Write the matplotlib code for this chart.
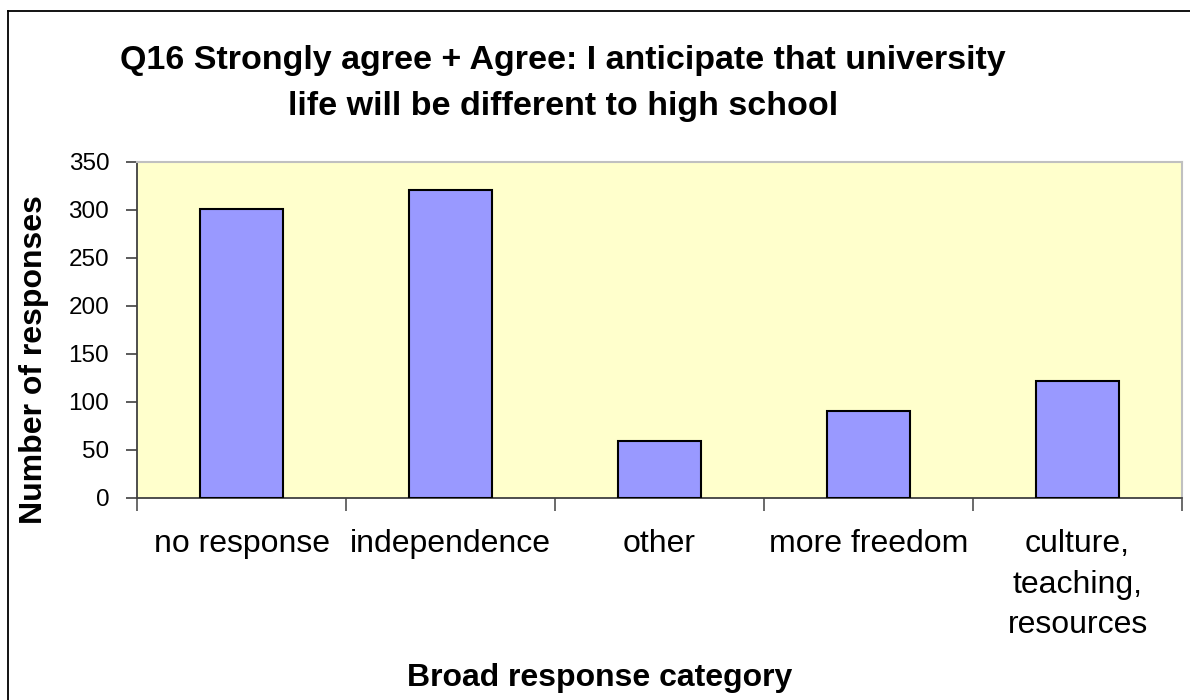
import matplotlib
matplotlib.use("Agg")
import matplotlib.pyplot as plt
from matplotlib.lines import Line2D

# chart data
categories = ["no response", "independence", "other", "more freedom",
              "culture,\nteaching,\nresources"]
responses = [301, 321, 59, 91, 122]
y_ticks = [0, 50, 100, 150, 200, 250, 300, 350]

title_lines = ["Q16 Strongly agree + Agree: I anticipate that university",
               "life will be different to high school"]
x_title = "Broad response category"
y_title = "Number of responses"

plt.rcParams['font.family'] = ['Liberation Sans', 'DejaVu Sans']

W, H = 1190, 700
fig = plt.figure(figsize=(W / 100, H / 100), dpi=100)
fig.patch.set_facecolor('white')

# plot area in pixels: x 137..1182, y 162..498
ax = fig.add_axes([137 / W, 1 - 498 / H, (1182 - 137) / W, (498 - 162) / H])
ax.set_facecolor('#FFFFCC')

x = list(range(len(categories)))
ax.bar(x, responses, width=0.4, color='#9999FF', edgecolor='black',
       linewidth=1.5, zorder=3)

ax.set_xlim(-0.5, len(categories) - 0.5)
ax.set_ylim(0, 350)
ax.set_yticks(y_ticks)
ax.set_yticklabels([str(v) for v in y_ticks], fontsize=17.5)
ax.tick_params(axis='y', direction='out', length=8, width=1.2,
               color='#404040', pad=12)

# labels at category centres, tick marks between categories
ax.set_xticks(x)
ax.set_xticklabels(categories, fontsize=23, linespacing=1.46)
ax.tick_params(axis='x', which='major', length=0, pad=22.5)
ax.set_xticks([i - 0.5 for i in range(len(categories) + 1)], minor=True)
ax.tick_params(axis='x', which='minor', direction='out', length=9,
               width=1.2, color='#505050')

for side in ['left', 'bottom']:
    ax.spines[side].set_color('#404040')
    ax.spines[side].set_linewidth(1.3)
for side in ['top', 'right']:
    ax.spines[side].set_color('#c0c0c0')
    ax.spines[side].set_linewidth(1.5)

# title, two lines
fig.text(563 / W, 1 - 69 / H, title_lines[0], ha='center', va='baseline',
         fontsize=24.5, fontweight='bold')
fig.text(563 / W, 1 - 115 / H, title_lines[1], ha='center', va='baseline',
         fontsize=24.5, fontweight='bold')

# axis titles
fig.text(600 / W, 1 - 686 / H, x_title, ha='center', va='baseline',
         fontsize=23, fontweight='bold')
fig.text(34 / W, 1 - 360 / H, y_title, ha='center', va='center',
         rotation=90, fontsize=23, fontweight='bold')

# chart frame (only left and top edges are in the picture)
fig.add_artist(Line2D([7.5 / W, 7.5 / W], [0, 1 - 10.5 / H],
                      transform=fig.transFigure, color='black', linewidth=1.3))
fig.add_artist(Line2D([7.5 / W, 1], [1 - 10.5 / H, 1 - 10.5 / H],
                      transform=fig.transFigure, color='black', linewidth=1.3))

fig.savefig('out.png', dpi=100)
